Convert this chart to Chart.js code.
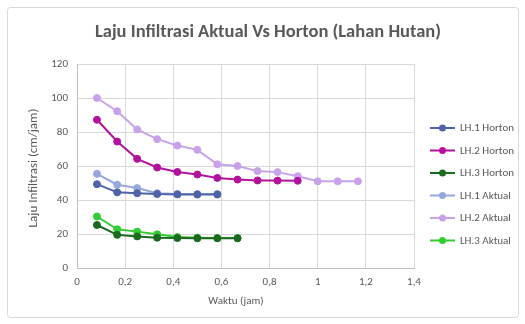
<!DOCTYPE html>
<html>
<head>
<meta charset="utf-8">
<script src="https://cdn.jsdelivr.net/npm/chart.js@4/dist/chart.umd.min.js"></script>
<style>
  html, body { margin: 0; padding: 0; background: #ffffff; }
  #wrap { width: 525px; height: 324px; position: relative; }
</style>
</head>
<body>
<div id="wrap"><canvas id="c" width="525" height="324"></canvas></div>
<script>
// Waktu (jam) for each measurement
const waktu = [0.083, 0.167, 0.25, 0.333, 0.417, 0.5, 0.583, 0.667, 0.75, 0.833, 0.917, 1.0, 1.083, 1.167];

// Laju infiltrasi (cm/jam)
const lh1Horton = [49.3, 44.5, 44.0, 43.5, 43.3, 43.2, 43.2];
const lh2Horton = [87.2, 74.4, 64.2, 59.1, 56.5, 55.0, 53.0, 52.0, 51.5, 51.4, 51.3];
const lh3Horton = [25.3, 19.5, 18.6, 17.8, 17.6, 17.5, 17.5, 17.5];
const lh1Aktual = [55.4, 49.0, 47.0, 44.0, 43.5, 43.5, 43.5];
const lh2Aktual = [100.0, 92.2, 81.5, 75.8, 72.0, 69.5, 61.0, 60.0, 57.0, 56.4, 54.0, 51.0, 51.0, 51.0];
const lh3Aktual = [30.3, 22.8, 21.4, 19.8, 18.2, 17.8, 17.6, 17.6];

const seriesNames = ['LH.1 Horton', 'LH.2 Horton', 'LH.3 Horton', 'LH.1 Aktual', 'LH.2 Aktual', 'LH.3 Aktual'];
const seriesValues = [lh1Horton, lh2Horton, lh3Horton, lh1Aktual, lh2Aktual, lh3Aktual];
const seriesColors = ['#4f63a8', '#b3139c', '#1b6b1f', '#97a9dc', '#c9a2ec', '#33cc33'];

const xTicks = [0, 0.2, 0.4, 0.6, 0.8, 1, 1.2, 1.4];
const yTicks = [0, 20, 40, 60, 80, 100, 120];

const FONT = "Carlito, Lato, 'Open Sans', sans-serif";
const TEXT = '#595959';

const datasets = seriesValues.map((vals, i) => ({
  label: seriesNames[i],
  data: vals.map((v, k) => ({ x: waktu[k], y: v })),
  borderColor: seriesColors[i],
  backgroundColor: seriesColors[i],
  borderWidth: 2,
  pointRadius: 3.5,
  pointBorderWidth: 1,
  showLine: true,
  tension: 0
}));

const fmt = v => String(Math.round(v * 10) / 10).replace('.', ',');

// Frame, chart title, axis titles and the side legend
const decor = {
  id: 'decor',
  beforeDraw(chart) {
    const ctx = chart.ctx;
    ctx.save();
    ctx.fillStyle = '#ffffff';
    ctx.fillRect(0, 0, chart.width, chart.height);
    ctx.strokeStyle = '#d9d9d9';
    ctx.lineWidth = 1;
    ctx.beginPath();
    ctx.roundRect(7.5, 7.5, 511, 310, 3);
    ctx.stroke();
    ctx.restore();
  },
  afterDraw(chart) {
    const ctx = chart.ctx;
    const area = chart.chartArea;
    ctx.save();
    ctx.fillStyle = TEXT;
    ctx.textAlign = 'center';
    ctx.textBaseline = 'middle';
    ctx.font = `bold 18.5px ${FONT}`;
    ctx.fillText('Laju Infiltrasi Aktual Vs Horton (Lahan Hutan)', 268, 32);

    ctx.font = `11px ${FONT}`;
    ctx.fillText('Waktu (jam)', 236, 301);
    ctx.save();
    ctx.font = `13px ${FONT}`;
    ctx.translate(34, (area.top + area.bottom) / 2 + 2);
    ctx.rotate(-Math.PI / 2);
    ctx.fillText('Laju Infiltrasi (cm/jam)', 0, 0);
    ctx.restore();

    // legend: line with a marker, then the series name
    ctx.font = `11px ${FONT}`;
    ctx.textAlign = 'left';
    chart.data.datasets.forEach((ds, i) => {
      const y = 128 + i * 22.5;
      ctx.strokeStyle = ds.borderColor;
      ctx.lineWidth = 2;
      ctx.beginPath();
      ctx.moveTo(430, y);
      ctx.lineTo(455, y);
      ctx.stroke();
      ctx.fillStyle = ds.backgroundColor;
      ctx.beginPath();
      ctx.arc(442.5, y, 3.5, 0, Math.PI * 2);
      ctx.fill();
      ctx.fillStyle = TEXT;
      ctx.fillText(ds.label, 460, y + 0.5);
    });
    ctx.restore();
  }
};

new Chart(document.getElementById('c'), {
  type: 'scatter',
  data: { datasets },
  options: {
    responsive: false,
    animation: false,
    devicePixelRatio: 1,
    layout: { padding: { left: 0, top: 64, right: 111, bottom: 0 } },
    plugins: {
      legend: { display: false },
      title: { display: false },
      tooltip: { enabled: false }
    },
    scales: {
      x: {
        type: 'linear',
        min: 0,
        max: 1.4,
        afterBuildTicks: s => { s.ticks = xTicks.map(v => ({ value: v })); },
        afterFit: s => { s.height = 56; },
        ticks: { color: TEXT, font: { family: FONT, size: 11 }, padding: 8, callback: v => fmt(v) },
        grid: { color: '#d9d9d9', drawTicks: false },
        border: { color: '#bfbfbf' }
      },
      y: {
        type: 'linear',
        min: 0,
        max: 120,
        afterBuildTicks: s => { s.ticks = yTicks.map(v => ({ value: v })); },
        afterFit: s => { s.width = 77; },
        ticks: { color: TEXT, font: { family: FONT, size: 11 }, padding: 9, callback: v => fmt(v) },
        grid: { color: '#d9d9d9', drawTicks: false },
        border: { color: '#bfbfbf' }
      }
    }
  },
  plugins: [decor]
});
</script>
</body>
</html>
